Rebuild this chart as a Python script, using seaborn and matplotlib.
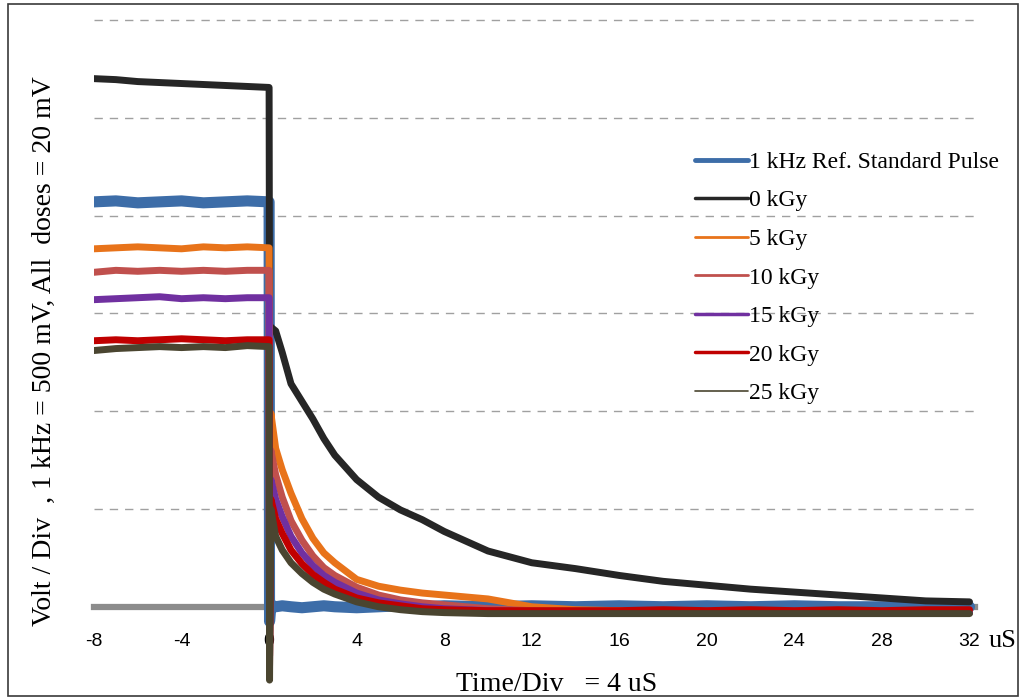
import numpy as np
import pandas as pd
import matplotlib
matplotlib.use('Agg')
import matplotlib.pyplot as plt
import seaborn as sns
from matplotlib.patches import Rectangle

# time axis (uS) and signal level in divisions
t = [-8, -7, -6, -5, -4, -3, -2, -1, 0, 0.02, 0.08, 0.3, 0.6, 1, 1.5, 2, 2.5, 3,
     4, 5, 6, 7, 8, 10, 12, 14, 16, 18, 20, 22, 24, 26, 28, 30, 32]

ref_pulse = [4.14, 4.15, 4.13, 4.14, 4.15, 4.13, 4.14, 4.15, 4.14, -0.15, 0.02, 0.0, 0.01, 0.0,
             -0.01, 0.0, 0.01, 0.0, -0.01, 0.0, 0.01, 0.0, 0.01, 0.0, 0.01, 0.0, 0.01,
             0.0, 0.01, 0.0, 0.01, 0.0, 0.0, 0.0, 0.0]
dose_0 = [5.40, 5.39, 5.37, 5.36, 5.35, 5.34, 5.33, 5.32, 5.31, 2.88, 2.86, 2.82, 2.60, 2.28,
          2.10, 1.92, 1.72, 1.55, 1.30, 1.12, 0.99, 0.89, 0.77, 0.57, 0.45, 0.39, 0.32,
          0.26, 0.22, 0.18, 0.15, 0.12, 0.09, 0.06, 0.05]
dose_5 = [3.66, 3.67, 3.68, 3.67, 3.66, 3.68, 3.67, 3.68, 3.67, -0.5, 1.98, 1.62, 1.40, 1.16,
          0.90, 0.70, 0.55, 0.45, 0.28, 0.21, 0.17, 0.14, 0.12, 0.08, 0.0, -0.03, -0.04,
          -0.05, -0.05, -0.06, -0.05, -0.06, -0.05, -0.06, -0.06]
dose_10 = [3.42, 3.44, 3.43, 3.44, 3.43, 3.44, 3.43, 3.44, 3.44, -0.5, 1.60, 1.35, 1.12, 0.88,
           0.68, 0.52, 0.40, 0.32, 0.20, 0.12, 0.07, 0.04, 0.02, -0.02, -0.04, -0.05, -0.05,
           -0.06, -0.05, -0.06, -0.05, -0.06, -0.05, -0.06, -0.06]
dose_15 = [3.14, 3.15, 3.16, 3.17, 3.15, 3.16, 3.15, 3.16, 3.16, -0.5, 1.30, 1.10, 0.92, 0.72,
           0.55, 0.42, 0.32, 0.25, 0.14, 0.07, 0.03, 0.0, -0.02, -0.04, -0.05, -0.06, -0.06,
           -0.06, -0.06, -0.06, -0.06, -0.06, -0.06, -0.06, -0.06]
dose_20 = [2.72, 2.73, 2.72, 2.73, 2.74, 2.73, 2.72, 2.73, 2.73, -0.6, 1.10, 0.90, 0.75, 0.58,
           0.44, 0.33, 0.25, 0.18, 0.09, 0.04, 0.01, -0.02, -0.03, -0.04, -0.04, -0.04, -0.04,
           -0.03, -0.04, -0.03, -0.04, -0.03, -0.04, -0.03, -0.03]
dose_25 = [2.62, 2.64, 2.65, 2.66, 2.65, 2.66, 2.65, 2.67, 2.66, -0.75, 1.00, 0.72, 0.58, 0.45,
           0.34, 0.25, 0.18, 0.13, 0.05, 0.0, -0.03, -0.05, -0.06, -0.07, -0.07, -0.07, -0.07,
           -0.07, -0.07, -0.07, -0.07, -0.07, -0.07, -0.07, -0.07]

labels = ['1 kHz Ref. Standard Pulse', '0 kGy', '5 kGy', '10 kGy', '15 kGy', '20 kGy', '25 kGy']
series = [ref_pulse, dose_0, dose_5, dose_10, dose_15, dose_20, dose_25]
colors = ['#3D6DA8', '#262626', '#E8731A', '#C0504D', '#7030A0', '#C00000', '#4A4530']
plot_lw = [8, 5, 5, 5, 5, 5, 5]
legend_lw = [3.5, 2.5, 2, 2, 2.5, 2.5, 1.2]

xticks = [-8, -4, 0, 4, 8, 12, 16, 20, 24, 28, 32]
grid_levels = [1, 2, 3, 4, 5, 6]

sns.set_theme(style='white')
plt.rcParams['font.family'] = ['Liberation Serif', 'DejaVu Serif']
plt.rcParams['text.color'] = 'black'
plt.rcParams['axes.labelcolor'] = 'black'
plt.rcParams['xtick.color'] = 'black'

fig = plt.figure(figsize=(10.25, 7), dpi=100)
ax = fig.add_axes([94 / 1025, 15 / 700, 881 / 1025, 667 / 700])

for g in grid_levels:
    ax.axhline(g, color='#A0A0A0', lw=1, ls=(0, (6, 5)), zorder=0.5, clip_on=False)

for vals, lab, c, lw in zip(series, labels, colors, plot_lw):
    sns.lineplot(x=t, y=vals, color=c, lw=lw, label=lab, sort=False,
                 estimator=None, ax=ax, zorder=2)

ax.set_xlim(-8, 32.25)
ax.set_ylim(-0.8, 6.02)

for s in ['top', 'right', 'left']:
    ax.spines[s].set_visible(False)
ax.spines['bottom'].set_position(('data', 0))
ax.spines['bottom'].set_color('#8C8C8C')
ax.spines['bottom'].set_linewidth(4.5)
ax.spines['bottom'].set_zorder(1)

ax.set_yticks([])
ax.set_xticks(xticks)
ax.set_xticklabels([str(x) for x in xticks], family='Liberation Sans', fontsize=14)
ax.tick_params(axis='x', length=0, pad=19)
ax.annotate('uS', xy=(32, 0), xycoords='data', xytext=(14, -25), textcoords='offset points',
            ha='left', va='center', fontsize=19, family='Liberation Serif')

ax.set_xlabel('Time/Div   = 4 uS', fontsize=20)
ax.xaxis.set_label_coords(0.5255, 0.019)
ax.set_ylabel('Volt / Div  , 1 kHz = 500 mV, All  doses = 20 mV', fontsize=20, labelpad=27)

leg = ax.legend(loc='upper left', bbox_to_anchor=(0.682, 0.80), frameon=False,
                prop={'family': 'Liberation Serif', 'size': 17}, handlelength=2.25,
                handletextpad=0.05, labelspacing=0.72, borderpad=0, borderaxespad=0)
for line, lw in zip(leg.get_lines(), legend_lw):
    line.set_linewidth(lw)

fig.patches.append(Rectangle((8 / 1025, 4 / 700), 1010 / 1025, 692 / 700, transform=fig.transFigure,
                             fill=False, edgecolor='#3A3A3A', lw=1.2))

fig.savefig('out.png', dpi=100)
